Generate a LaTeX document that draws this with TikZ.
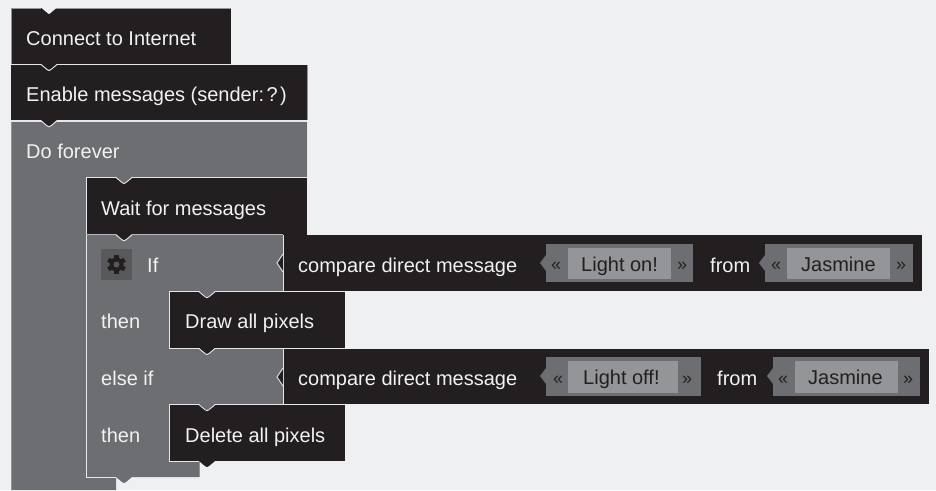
\documentclass[tikz,border=0pt]{standalone}
\usepackage{fontspec}
\setmainfont{Liberation Sans}
\definecolor{pagebg}{HTML}{EFF0F2}
\definecolor{blockdark}{HTML}{231F20}
\definecolor{blockgray}{HTML}{6D6E71}
\definecolor{fieldlight}{HTML}{939598}
\definecolor{gearbox}{HTML}{58595B}
\definecolor{edgeline}{HTML}{E6E7E8}
\definecolor{labelwhite}{HTML}{F1F2F2}
\tikzset{
  x=1pt,y=-1pt,
  lbl/.style={anchor=base west,inner sep=0pt,text=labelwhite,font=\fontsize{20}{24}\selectfont},
  arglbl/.style={anchor=base west,inner sep=0pt,text=blockdark,font=\fontsize{20}{24}\selectfont},
  quot/.style={anchor=base,inner sep=0pt,text=blockdark,font=\fontsize{18}{20}\selectfont},
  edge/.style={draw=edgeline,line width=0.9pt},
  softedge/.style={draw=fieldlight,line width=0.8pt},
}
\newcommand{\tabdown}[3]{%
  \fill[#3] (#1-8,#2) -- (#1-2,#2+5) -- (#1,#2+6) -- (#1+2,#2+5) -- (#1+8,#2) -- cycle;}
\newcommand{\tabedge}[2]{%
  \draw[edge] (#1-8,#2) -- (#1-2,#2+5) -- (#1,#2+6) -- (#1+2,#2+5) -- (#1+8,#2);}
\newcommand{\socket}[2]{%
  \fill[blockdark] (#1,#2-8) -- (#1-5,#2-1.5) -- (#1-6,#2) -- (#1-5,#2+1.5) -- (#1,#2+8) -- cycle;
  \draw[edge] (#1,#2-9) -- (#1-5,#2-1.5) -- (#1-6,#2) -- (#1-5,#2+1.5) -- (#1,#2+9);}
\newcommand{\argfield}[6]{%
  \fill[blockgray] (#1,#3) rectangle (#2,#4);
  \fill[blockgray] (#1,#3+11) -- (#1-6,#3+19) -- (#1,#3+27) -- cycle;
  \fill[fieldlight] (#5,#3+4) rectangle (#6,#4-3);}
\begin{document}
\begin{tikzpicture}
\useasboundingbox (0,0) rectangle (936,490);
\fill[pagebg] (0,0) rectangle (936,490);

% Do forever
\fill[blockgray] (11,121) -- (307,121) -- (307,177) -- (86,177) -- (86,477) -- (116,477) -- (116,490) -- (11,490) -- cycle;
\draw[softedge] (11,490) -- (11,121);
\draw[edge] (11,121) -- (307,121) -- (307,177);

% Connect to Internet
\fill[blockdark] (11,8) rectangle (231,64);
\draw[softedge] (11,64) -- (11,8) -- (41,8);
\draw[softedge] (56,8) -- (231,8);
\fill[pagebg] (41,7.5) -- (47.5,13) -- (49,14) -- (50.5,13) -- (57,7.5) -- cycle;
\draw[edge] (11,64.5) -- (231,64.5);

% Enable messages
\fill[blockdark] (11,65) rectangle (307,120.5);
\draw[softedge] (307,65) -- (307,120);
\tabdown{49}{64}{blockdark}
\tabedge{49}{64.5}
\draw[edge] (11,120.8) -- (307,120.8);
\tabdown{49}{120}{blockdark}
\tabedge{49}{120.8}

% If container
\fill[blockgray] (86,235) -- (283,235) -- (283,404) -- (199,404) -- (199,477) -- (86,477) -- cycle;
\draw[edge] (116,477) -- (86,477) -- (86,235);
\draw[softedge] (199,404) -- (199,477);
\tabdown{124}{477}{blockgray}

% Wait for messages
\fill[blockdark] (86,178) rectangle (307,234.5);
\draw[edge] (86,177.5) -- (307,177.5);
\draw[edge] (86,177.5) -- (86,234);
\tabdown{124}{177}{blockgray}
\tabedge{124}{177.5}
\draw[draw=fieldlight!60!edgeline,line width=1pt] (86,234.8) -- (283,234.8);
\tabdown{124}{234}{blockdark}
\tabedge{124}{234.8}

% compare rows
\fill[blockdark] (283,235) rectangle (922,291);
\fill[blockdark] (283,349) rectangle (929,404);
\draw[edge] (283,235) -- (283,291);
\draw[edge] (283,349) -- (283,404);
\socket{283}{263}
\socket{283}{377}

% Draw all pixels
\fill[blockdark] (169,292) rectangle (345,348);
\draw[edge] (345,291.7) -- (169,291.7) -- (169,348) -- (345,348);
\tabdown{207}{291}{blockgray}
\tabedge{207}{291.7}
\tabdown{207}{348}{blockdark}
\tabedge{207}{348.5}

% Delete all pixels
\fill[blockdark] (169,405) rectangle (345,461);
\draw[edge] (345,404.7) -- (169,404.7) -- (169,461) -- (199,461);
\tabdown{207}{404}{blockgray}
\tabedge{207}{404.7}
\tabdown{207}{461}{blockdark}

% argument fields
\argfield{546}{693}{244}{282}{568}{671}
\argfield{765}{913}{244}{282}{787}{890}
\argfield{546}{701}{357}{396}{568}{678}
\argfield{773}{920}{357}{396}{795}{898}

% gear
\fill[gearbox] (101,249) rectangle (132,280);
\begin{scope}[shift={(116.5,264.5)}]
  \foreach \a in {0,60,120,180,240,300}
    \fill[blockdark,rotate=\a] (-2.2,-9.5) rectangle (2.2,-5);
  \fill[blockdark] (0,0) circle[radius=7];
  \fill[gearbox] (0,0) circle[radius=3];
\end{scope}

% labels
\node[lbl] (connect) at (26,45) {Connect to Internet};
\node[lbl] (enable) at (26,101) {Enable messages (sender:{\spaceskip=2.5pt\relax\xspaceskip=2.5pt\relax{} ? )}};
\node[lbl] (forever) at (26,158) {Do forever};
\node[lbl] (wait) at (101,215) {Wait for messages};
\node[lbl] (if) at (147,272) {If};
\node[lbl] (then1) at (101,328) {then};
\node[lbl] (draw) at (185,328) {Draw all pixels};
\node[lbl] (elseif) at (101,385) {else if};
\node[lbl] (then2) at (101,442) {then};
\node[lbl] (delete) at (185,442) {Delete all pixels};
\node[lbl] (cmp1) at (298,272) {compare direct message};
\node[lbl] (cmp2) at (298,385) {compare direct message};
\node[lbl] (from1) at (710,272) {from};
\node[lbl] (from2) at (717,385) {from};
\node[arglbl] (on) at (581,271) {Light on!};
\node[arglbl] (off) at (583,384) {Light off!};
\node[arglbl] (jas1) at (801,271) {Jasmine};
\node[arglbl] (jas2) at (808,384) {Jasmine};
\node[quot] (q1) at (556,270) {«};
\node[quot] (q2) at (682,270) {»};
\node[quot] (q3) at (776,270) {«};
\node[quot] (q4) at (901,270) {»};
\node[quot] (q5) at (558,384) {«};
\node[quot] (q6) at (687,384) {»};
\node[quot] (q7) at (783,384) {«};
\node[quot] (q8) at (908,384) {»};
\end{tikzpicture}
\end{document}
